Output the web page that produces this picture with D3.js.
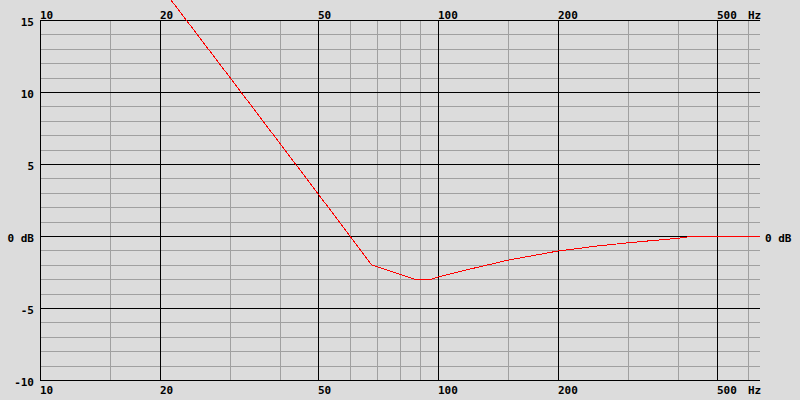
<!DOCTYPE html>
<html>
<head>
<meta charset="utf-8">
<script src="https://cdn.jsdelivr.net/npm/d3@7"></script>
<style>
    body { margin: 0; background: #dcdcdc; }
    svg { display: block; }
    text { font-family: "DejaVu Sans Mono", monospace; font-weight: bold; font-size: 11px; fill: #000; }
</style>
</head>
<body>
<div id="graph_field"></div>
<script>
// frequency response curve (Hz / dB)
const freqs = [20, 30, 50, 68, 87, 96, 100, 120, 150, 200, 250, 300, 350, 400, 440, 644];
const gains = [17.4, 11.0, 2.9, -2.0, -3.0, -3.0, -2.85, -2.3, -1.67, -1.04, -0.7, -0.47, -0.3, -0.16, 0, 0];

// grid
const majorFreqs = [10, 20, 50, 100, 200, 500];
const minorFreqs = [15, 30, 40, 60, 70, 80, 90, 150, 300, 400, 600];
const freqLabelPos = [10, 20, 50, 100, 200, 500, 600];
const freqLabels = ["10", "20", "50", "100", "200", "500", "Hz"];
const majorDb = [15, 10, 5, 0, -5, -10];
const minorDb = d3.range(-10, 16);
const dbLabels = ["15", "10", "5", "0 dB", "-5", "-10"];
const rightDb = [0];
const rightLabels = ["0 dB"];

let width = 800;
let height = 400;
let margin = {top: 20, right: 40, bottom: 20, left: 40};

// one decade is about 398 px wide
let x = d3.scaleLog()
    .domain([10, 10 * Math.pow(10, 720 / 398.3)])
    .range([margin.left, width - margin.right]);
let y = d3.scaleLinear()
    .domain([15, -10])
    .range([margin.top, height - margin.bottom]);

let px = function(v) { return Math.round(x(v)) + 0.5; };
let py = function(v) { return Math.round(y(v)) + 0.5; };

let svg = d3.select("#graph_field")
    .append("svg")
    .attr("width", width)
    .attr("height", height);

svg.append("rect")
    .attr("width", width)
    .attr("height", height)
    .attr("fill", "#dcdcdc");

let grid = svg.append("g").attr("shape-rendering", "crispEdges");

// minor lines first
grid.selectAll(".hminor")
    .data(minorDb.filter(d => majorDb.indexOf(d) < 0))
    .enter().append("line")
    .attr("x1", margin.left).attr("x2", width - margin.right)
    .attr("y1", d => py(d)).attr("y2", d => py(d))
    .attr("stroke", "#a0a0a0");

grid.selectAll(".vminor")
    .data(minorFreqs)
    .enter().append("line")
    .attr("x1", d => px(d)).attr("x2", d => px(d))
    .attr("y1", margin.top).attr("y2", height - margin.bottom)
    .attr("stroke", "#a0a0a0");

grid.selectAll(".hmajor")
    .data(majorDb)
    .enter().append("line")
    .attr("x1", margin.left).attr("x2", width - margin.right)
    .attr("y1", d => py(d)).attr("y2", d => py(d))
    .attr("stroke", "#000");

grid.selectAll(".vmajor")
    .data(majorFreqs)
    .enter().append("line")
    .attr("x1", d => px(d)).attr("x2", d => px(d))
    .attr("y1", margin.top).attr("y2", height - margin.bottom + 1)
    .attr("stroke", "#000");

// frequency labels, top and bottom
freqLabelPos.forEach(function(f, i) {
    svg.append("text")
        .attr("x", Math.round(x(f)))
        .attr("y", margin.top - 1)
        .text(freqLabels[i]);
    svg.append("text")
        .attr("x", Math.round(x(f)))
        .attr("y", height - 6)
        .text(freqLabels[i]);
});

// dB labels
majorDb.forEach(function(d, i) {
    svg.append("text")
        .attr("x", 34)
        .attr("y", Math.round(y(d)) + 6)
        .style("text-anchor", "end")
        .text(dbLabels[i]);
});
rightDb.forEach(function(d, i) {
    svg.append("text")
        .attr("x", 765)
        .attr("y", Math.round(y(d)) + 6)
        .text(rightLabels[i]);
});

// response curve
let valueline = d3.line()
    .x(function(d, i) { return x(freqs[i]); })
    .y(function(d) { return y(d); });

svg.append("path")
    .datum(gains)
    .attr("d", valueline)
    .attr("fill", "none")
    .attr("stroke", "#ff0000")
    .attr("stroke-width", 1)
    .attr("shape-rendering", "crispEdges");
</script>
</body>
</html>
